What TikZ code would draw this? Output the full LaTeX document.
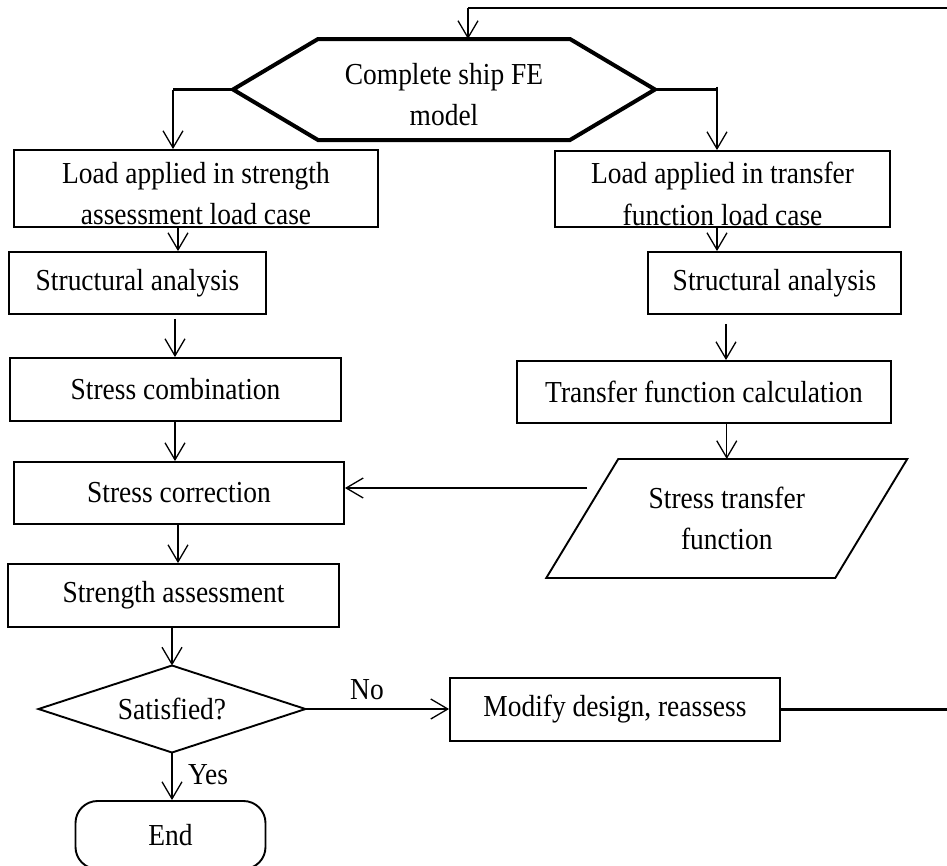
\documentclass[tikz,border=0pt]{standalone}
\usepackage{fontspec}
\setmainfont[FakeStretch=0.9]{Liberation Serif}
\usetikzlibrary{arrows.meta}
\begin{document}
\begin{tikzpicture}[x=1pt,y=-1pt,
  font=\fontsize{30.5pt}{41.5pt}\selectfont,
  box/.style={draw, line width=1.9pt, inner sep=0pt, align=center},
  arr/.style={line width=1.3pt, -{Straight Barb[length=17pt,width=20pt]}},
  thk/.style={line width=2.6pt},
  shp/.style={line width=1.9pt, line join=miter}]
\useasboundingbox (0,0) rectangle (947,865);

% left column
\node[box, minimum width=364pt, minimum height=77pt] (L1) at (196,188.5) {\rule{0pt}{31pt}Load applied in strength\\assessment load case};
\node[box, minimum width=257pt, minimum height=62pt] (L2) at (137.5,283) {Structural analysis};
\node[box, minimum width=331pt, minimum height=63pt] (L3) at (175.5,389.5) {Stress combination};
\node[box, minimum width=330pt, minimum height=62pt] (L4) at (179,493) {Stress correction};
\node[box, minimum width=331pt, minimum height=63pt] (L5) at (173.5,595.5) {Strength assessment};

% right column
\node[box, minimum width=335pt, minimum height=76pt] (R1) at (722.5,189) {\rule{0pt}{31pt}Load applied in transfer\\function load case};
\node[box, minimum width=253pt, minimum height=62pt] (R2) at (774.5,283) {Structural analysis};
\node[box, minimum width=374pt, minimum height=62pt] (R3) at (704,392) {Transfer function calculation};
\node[align=center, inner sep=0pt] (P) at (726.75,518.5) {Stress transfer\\function};
\draw[shp] ([shift={(-108.5,-59.5)}]P.center) -- ([shift={(180.5,-59.5)}]P.center)
  -- ([shift={(108.5,59.5)}]P.center) -- ([shift={(-180.5,59.5)}]P.center) -- cycle;
\coordinate (Ptop) at ([shift={(0,-59.5)}]P.center);
\coordinate (Pin) at ([shift={(-139.75,-30.5)}]P.center);

% hexagon
\node[align=center, inner sep=0pt] (H) at (444,89.5) {\rule{0pt}{31pt}Complete ship FE\\model};
\draw[line width=4pt, line join=miter] ([shift={(-211,0)}]H.center) -- ([shift={(-126,-50.5)}]H.center)
  -- ([shift={(126,-50.5)}]H.center) -- ([shift={(211,0)}]H.center)
  -- ([shift={(126,50.5)}]H.center) -- ([shift={(-126,50.5)}]H.center) -- cycle;
\coordinate (Hw) at ([shift={(-211,0)}]H.center);
\coordinate (He) at ([shift={(211,0)}]H.center);
\coordinate (Htop) at ([shift={(24,-50.5)}]H.center);

% decision
\node[inner sep=0pt] (D) at (172,709) {Satisfied?};
\coordinate (Dn) at ([shift={(0,-43.5)}]D.center);
\coordinate (Ds) at ([shift={(0,43.5)}]D.center);
\coordinate (De) at ([shift={(133.5,0)}]D.center);
\coordinate (Dw) at ([shift={(-133.5,0)}]D.center);
\draw[shp] (Dn) -- (De) -- (Ds) -- (Dw) -- cycle;

\node[box, minimum width=330pt, minimum height=63pt] (M) at (615,709.5) {Modify design, reassess};
\node[draw, line width=1.9pt, rounded corners=22pt, minimum width=190pt, minimum height=68pt, inner sep=0pt] (End) at (170.5,835) {End};

\node[inner sep=0pt] (no) at (367,690) {No};
\node[inner sep=0pt] (yes) at (208,775) {Yes};

% helper x positions
\coordinate (cL) at (173,0);
\coordinate (cR) at (717,0);
\coordinate (a1) at (178,0);
\coordinate (a2) at (175,0);
\coordinate (a3) at (726,0);
\coordinate (far) at (965,8);

% connectors
\draw[thk] (Hw) -- (Hw -| cL);
\draw[arr] (Hw -| cL) -- (L1.north -| cL);
\draw[thk] (He) -- (He -| cR);
\draw[arr] ([yshift=3pt]He -| cR) -- (R1.north -| cR);

\draw[arr] (L1.south -| a1) -- (L2.north -| a1);
\draw[arr, shorten <=4pt] (L2.south -| a2) -- (L3.north -| a2);
\draw[arr] (L3.south -| a2) -- (L4.north -| a2);
\draw[arr] (L4.south -| a1) -- (L5.north -| a1);
\draw[arr] (L5.south -| Dn) -- (Dn);

\draw[arr] (R1.south -| cR) -- (R2.north -| cR);
\draw[arr, shorten <=9pt] (R2.south -| a3) -- (R3.north -| a3);
\draw[arr] (R3.south -| Ptop) -- (Ptop);
\draw[arr] (Pin) -- (Pin -| L4.east);

\draw[arr] (De) -- (De -| M.west);
\draw[arr] (Ds) -- (Ds |- End.north);

\draw[thk] (M.east) -- (M.east -| far) -- (far) -- (far -| Htop);
\draw[arr] (far -| Htop) -- (Htop);
\end{tikzpicture}
\end{document}
